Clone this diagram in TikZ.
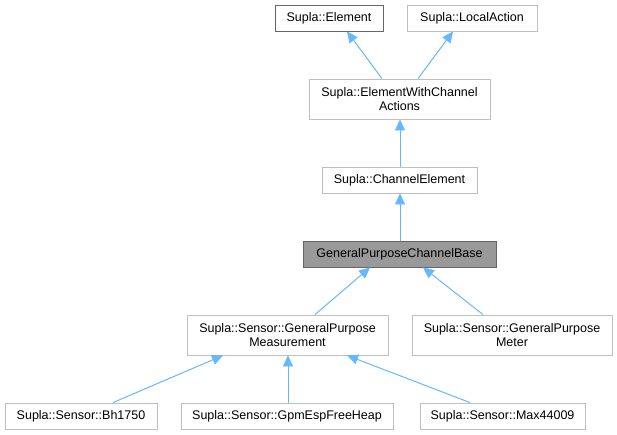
\documentclass[tikz,border=0pt]{standalone}
\usepackage{fontspec}
\setmainfont{Liberation Sans}
\usetikzlibrary{arrows.meta,calc}
\definecolor{edgeblue}{HTML}{63B8FF}
\definecolor{boxgray}{HTML}{BFBFBF}
\definecolor{darkgray}{HTML}{666666}
\definecolor{fillgray}{HTML}{999999}
\tikzset{
  cls/.style={draw=boxgray, line width=0.9pt, fill=white, inner sep=0pt, align=center,
    font=\fontsize{12.5}{14.5}\selectfont, text=black},
  one/.style={minimum height=26pt},
  two/.style={minimum height=40pt},
  darkbox/.style={draw=darkgray},
  cur/.style={draw=darkgray, fill=fillgray},
  inh/.style={draw=edgeblue, line width=1pt, -{Triangle[length=11pt,width=10pt,fill=edgeblue,line width=0.5pt]}},
}
\begin{document}
\begin{tikzpicture}[x=1pt,y=-1pt]
\useasboundingbox (0,0) rectangle (617,435);
\node[cls,one,darkbox,minimum width=108pt] (element) at (329,18) {Supla::Element};
\node[cls,one,minimum width=130pt] (local) at (472,18) {Supla::LocalAction};
\node[cls,two,minimum width=181pt] (ewca) at (399.5,99) {Supla::ElementWithChannel\\Actions};
\node[cls,one,minimum width=155pt] (chel) at (399.5,180) {Supla::ChannelElement};
\node[cls,one,cur,minimum width=193pt] (gpcb) at (399.5,254) {GeneralPurposeChannelBase};
\node[cls,two,minimum width=201pt] (meas) at (287.5,335) {Supla::Sensor::GeneralPurpose\\Measurement};
\node[cls,two,minimum width=200pt] (meter) at (512,335) {Supla::Sensor::GeneralPurpose\\Meter};
\node[cls,one,minimum width=152pt] (bh) at (81,416) {Supla::Sensor::Bh1750};
\node[cls,one,minimum width=212pt] (gpm) at (287,416) {Supla::Sensor::GpmEspFreeHeap};
\node[cls,one,minimum width=165pt] (max) at (502.5,416) {Supla::Sensor::Max44009};

\draw[inh] ($(ewca.north)+(-17.5,0)$) -- ($(element.south)+(18,0)$);
\draw[inh] ($(ewca.north)+(18.5,0)$) -- ($(local.south)+(-19,0)$);
\draw[inh] ($(chel.north)+(0.5,0)$) -- ($(ewca.south)+(0.5,0)$);
\draw[inh] ($(gpcb.north)+(0.5,0)$) -- ($(chel.south)+(0.5,0)$);
\draw[inh] ($(meas.north)+(27.5,0)$) -- ($(gpcb.south)+(-29.5,0)$);
\draw[inh] ($(meter.north)+(-29,0)$) -- ($(gpcb.south)+(23.5,0)$);
\draw[inh] ($(bh.north)+(32,0)$) -- ($(meas.south)+(-64.5,0)$);
\draw[inh] ($(gpm.north)+(1,0)$) -- ($(meas.south)+(0.5,0)$);
\draw[inh] ($(max.north)+(-32.5,0)$) -- ($(meas.south)+(59.5,0)$);
\end{tikzpicture}
\end{document}
